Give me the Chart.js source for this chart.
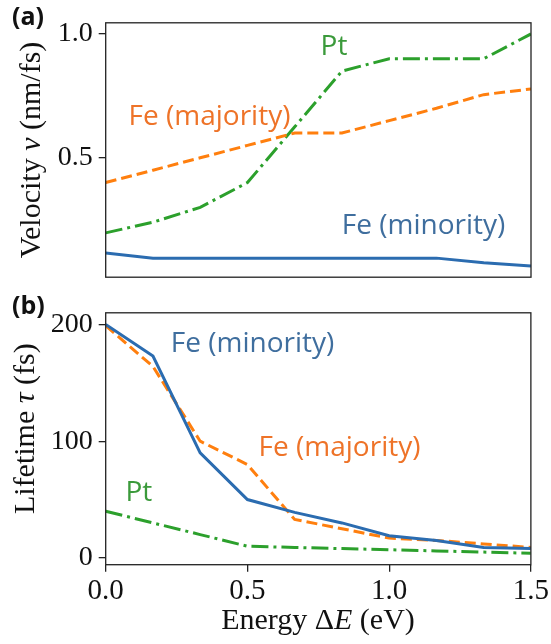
<!DOCTYPE html>
<html>
<head>
<meta charset="utf-8">
<script src="https://cdn.jsdelivr.net/npm/chart.js@4.4.0/dist/chart.umd.min.js"></script>
<style>
  html, body { margin: 0; padding: 0; background: #fff; }
  #wrap { position: relative; width: 551px; height: 644px; }
  #velocityChart { position: absolute; left: 0; top: 0; }
  #lifetimeChart { position: absolute; left: 0; top: 290px; }
</style>
</head>
<body>
<div id="wrap">
  <canvas id="velocityChart" width="551" height="300"></canvas>
  <canvas id="lifetimeChart" width="551" height="354"></canvas>
</div>
<script>
// --- Data ---
const energy = [0, 0.1667, 0.3333, 0.5, 0.6667, 0.8333, 1.0, 1.1667, 1.3333, 1.5];

// (a) velocity, nm/fs
const velMinority = [0.116, 0.095, 0.095, 0.095, 0.095, 0.095, 0.095, 0.095, 0.076, 0.063];
const velMajority = [0.40, 0.45, 0.50, 0.55, 0.60, 0.60, 0.65, 0.70, 0.755, 0.778];
const velPt       = [0.197, 0.24, 0.30, 0.40, 0.625, 0.85, 0.90, 0.90, 0.90, 1.0];

// (b) lifetime, fs
const tauMinority = [200, 173, 90, 50, 39, 30, 19, 15, 9, 8];
const tauMajority = [199, 164, 100, 80, 33, 25, 17, 15, 12, 9];
const tauPt       = [40, 30, 20, 10, 9, 8, 7, 6, 5, 4];

const velTicks = [0.5, 1.0];
const tauTicks = [0, 100, 200];
const energyTicks = [0, 0.5, 1.0, 1.5];

// --- Styles ---
const BLUE = '#2b6cb0';
const ORANGE = '#ff7f0e';
const GREEN = '#2ca02c';
const TXT_BLUE = '#3f6e9e';
const TXT_ORANGE = '#ee7328';
const TXT_GREEN = '#3b9a3b';
const SERIF = "'Liberation Serif', serif";
const SANS = "'Open Sans', 'Noto Sans', sans-serif";

Chart.defaults.font.family = SERIF;
Chart.defaults.color = '#111';

const pts = ys => ys.map((y, i) => ({ x: energy[i], y }));

function series(label, ys, color, dash) {
    return { label, data: pts(ys), borderColor: color, borderDash: dash, borderWidth: 3,
             borderCapStyle: 'butt', pointRadius: 0, tension: 0, fill: false };
}

// frame around the plot area (matplotlib spines)
const framePlugin = {
    id: 'frame',
    afterDraw(chart) {
        const { ctx, chartArea: a } = chart;
        ctx.save();
        ctx.strokeStyle = '#222';
        ctx.lineWidth = 1.3;
        ctx.strokeRect(a.left, a.top, a.right - a.left, a.bottom - a.top);
        ctx.restore();
    }
};

function drawRich(ctx, segs, cx, cy, rotate) {
    ctx.save();
    ctx.translate(cx, cy);
    if (rotate) ctx.rotate(-Math.PI / 2);
    ctx.textBaseline = 'middle';
    ctx.textAlign = 'left';
    let total = 0;
    const widths = segs.map(s => { ctx.font = s.font; const w = ctx.measureText(s.text).width; total += w; return w; });
    let x = -total / 2;
    segs.forEach((s, i) => {
        ctx.font = s.font;
        ctx.fillStyle = s.color || '#111';
        ctx.fillText(s.text, x, 0);
        x += widths[i];
    });
    ctx.restore();
}

// series labels (placed in data coords) + panel letters + axis titles
const textPlugin = {
    id: 'figText',
    afterDraw(chart, args, opts) {
        const ctx = chart.ctx;
        const sx = chart.scales.x, sy = chart.scales.y;
        (opts.labels || []).forEach(l => {
            drawRich(ctx, [{ text: l.text, font: `28px ${SANS}`, color: l.color }],
                     sx.getPixelForValue(l.x), sy.getPixelForValue(l.y), false);
        });
        if (opts.panel) {
            ctx.save();
            ctx.font = `bold 25px ${SANS}`;
            ctx.fillStyle = '#111';
            ctx.textBaseline = 'middle';
            ctx.fillText(opts.panel.text, opts.panel.x, opts.panel.y);
            ctx.restore();
        }
        (opts.titles || []).forEach(t => drawRich(ctx, t.segs, t.x, t.y, t.rotate));
    }
};

const gridTicks = { drawOnChartArea: false, drawTicks: true, tickLength: 7, color: '#222', lineWidth: 1.3 };
const up = `30px ${SERIF}`, it = `italic 30px ${SERIF}`;

// --- (a) Velocity ---
new Chart(document.getElementById('velocityChart'), {
    type: 'line',
    data: { datasets: [
        series('Fe (minority)', velMinority, BLUE, []),
        series('Fe (majority)', velMajority, ORANGE, [11, 5]),
        series('Pt', velPt, GREEN, [17, 5, 3, 5])
    ]},
    options: {
        responsive: false,
        animation: false,
        layout: { padding: { top: 22.3, right: 20, bottom: 6.7, left: 0 } },
        plugins: {
            legend: { display: false },
            tooltip: { enabled: false },
            figText: {
                labels: [
                    { text: 'Pt', x: 0.805, y: 0.948, color: TXT_GREEN },
                    { text: 'Fe (majority)', x: 0.366, y: 0.664, color: TXT_ORANGE },
                    { text: 'Fe (minority)', x: 1.121, y: 0.223, color: TXT_BLUE }
                ],
                panel: { text: '(a)', x: 12, y: 18 },
                titles: [
                    { segs: [{ text: 'Velocity ', font: up }, { text: 'ν', font: it }, { text: ' (nm/fs)', font: up }],
                      x: 32, y: 150, rotate: true }
                ]
            }
        },
        scales: {
            x: { type: 'linear', min: 0, max: 1.5, display: false },
            y: {
                min: 0.018, max: 1.045,
                afterFit: s => { s.width = 105.7; },
                afterBuildTicks: s => { s.ticks = velTicks.map(v => ({ value: v })); },
                ticks: { callback: v => Number(v).toFixed(1), font: { size: 28 }, color: '#111', padding: 6 },
                grid: gridTicks,
                border: { display: false }
            }
        }
    },
    plugins: [framePlugin, textPlugin]
});

// --- (b) Lifetime ---
new Chart(document.getElementById('lifetimeChart'), {
    type: 'line',
    data: { datasets: [
        series('Fe (minority)', tauMinority, BLUE, []),
        series('Fe (majority)', tauMajority, ORANGE, [11, 5]),
        series('Pt', tauPt, GREEN, [17, 5, 3, 5])
    ]},
    options: {
        responsive: false,
        animation: false,
        layout: { padding: { top: 3.3, right: 20, bottom: 0, left: 0 } },
        plugins: {
            legend: { display: false },
            tooltip: { enabled: false },
            figText: {
                labels: [
                    { text: 'Fe (minority)', x: 0.518, y: 183, color: TXT_BLUE },
                    { text: 'Fe (majority)', x: 0.825, y: 94.5, color: TXT_ORANGE },
                    { text: 'Pt', x: 0.117, y: 55.7, color: TXT_GREEN }
                ],
                panel: { text: '(b)', x: 12, y: 16.7 },
                titles: [
                    { segs: [{ text: 'Lifetime ', font: up }, { text: 'τ', font: it }, { text: ' (fs)', font: up }],
                      x: 26, y: 138.7, rotate: true },
                    { segs: [{ text: 'Energy Δ', font: up }, { text: 'E', font: it }, { text: ' (eV)', font: up }],
                      x: 318, y: 331, rotate: false }
                ]
            }
        },
        scales: {
            x: {
                type: 'linear', min: 0, max: 1.5,
                afterFit: s => { s.height = 79.3; },
                afterBuildTicks: s => { s.ticks = energyTicks.map(v => ({ value: v })); },
                ticks: { callback: v => Number(v).toFixed(1), font: { size: 29 }, color: '#111',
                         padding: 2, maxRotation: 0 },
                grid: gridTicks,
                border: { display: false }
            },
            y: {
                min: -5.8, max: 210,
                afterFit: s => { s.width = 105.7; },
                afterBuildTicks: s => { s.ticks = tauTicks.map(v => ({ value: v })); },
                ticks: { callback: v => String(v), font: { size: 28 }, color: '#111', padding: 6 },
                grid: gridTicks,
                border: { display: false }
            }
        }
    },
    plugins: [framePlugin, textPlugin]
});
</script>
</body>
</html>
